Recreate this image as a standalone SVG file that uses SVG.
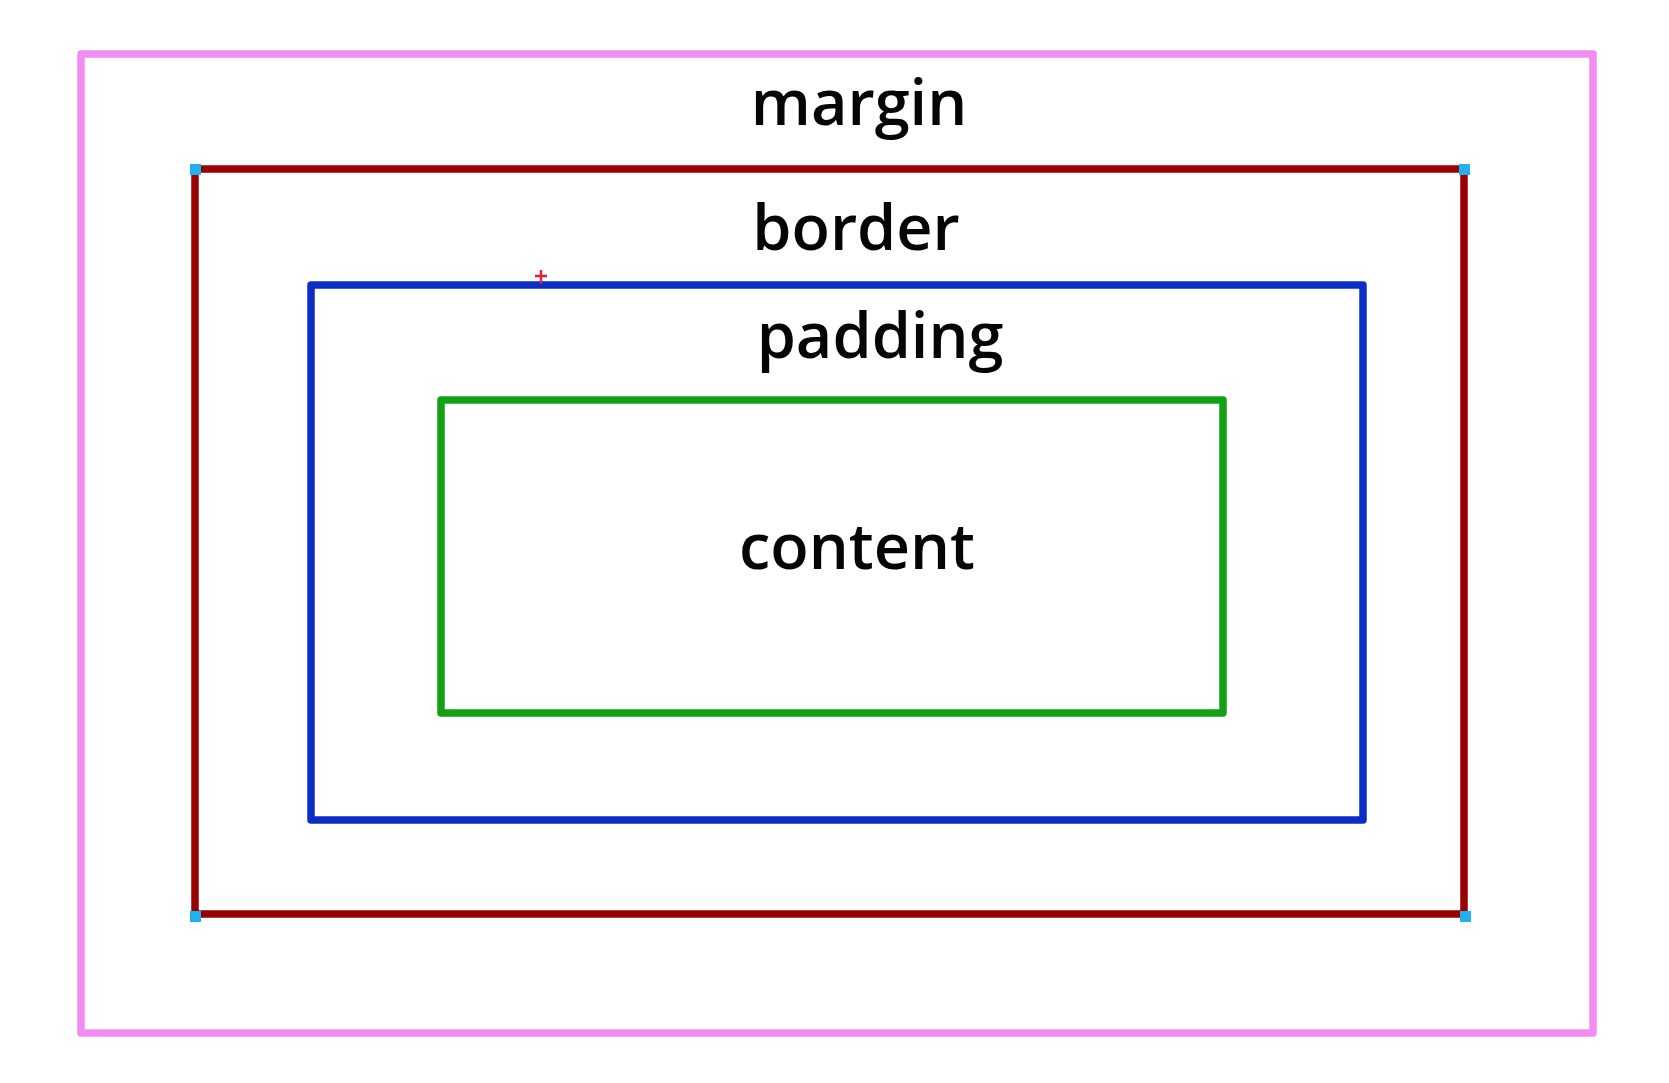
<svg xmlns="http://www.w3.org/2000/svg" width="1669" height="1083" viewBox="0 0 1669 1083">
  <style>
    .box { fill: none; stroke-width: 7.5; stroke-linejoin: round; }
    .lbl { font-family: "Open Sans", "Noto Sans", "DejaVu Sans", sans-serif; font-size: 63px; font-weight: 600; fill: #050505; text-anchor: middle; }
    .handle { fill: #22b0f0; }
  </style>
  <rect width="1669" height="1083" fill="#ffffff"/>
  <g id="margin">
    <rect class="box" x="81" y="54" width="1512" height="979" stroke="#f28cf2"/>
    <text class="lbl" x="859" y="125">margin</text>
  </g>
  <g id="border">
    <rect class="box" x="195" y="169" width="1269" height="745" stroke="#990000"/>
    <text class="lbl" x="856" y="250">border</text>
    <rect class="handle" x="190" y="164" width="11" height="11"/>
    <rect class="handle" x="1459" y="164" width="11" height="11"/>
    <rect class="handle" x="190" y="911" width="11" height="11"/>
    <rect class="handle" x="1460" y="911" width="11" height="11"/>
  </g>
  <g id="padding">
    <rect class="box" x="311" y="285" width="1052" height="535" stroke="#0a2ec4"/>
    <text class="lbl" x="880" y="358">padding</text>
  </g>
  <g id="content">
    <rect class="box" x="441" y="400" width="782" height="313" stroke="#14a014"/>
    <text class="lbl" x="857" y="569">content</text>
  </g>
  <g id="cursor">
    <path d="M535 276 H547 M541 270 V284" stroke="#e0203a" stroke-width="2.5" fill="none"/>
  </g>
</svg>
